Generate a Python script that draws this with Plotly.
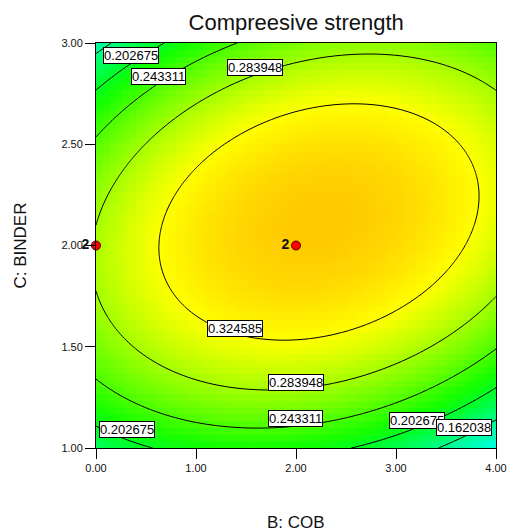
import numpy as np
import plotly.graph_objects as go

# Fitted quadratic response model for compressive strength
# z = b0 + bB*B + bC*C + bBB*B^2 + bCC*C^2 + bBC*B*C
coef_b0 = -0.1741
coef_B = 0.0313
coef_C = 0.4760
coef_BB = -0.01632
coef_CC = -0.1228
coef_BC = 0.0196

cob_range = [0.0, 4.0]
binder_range = [1.0, 3.0]

contour_levels = [0.162038, 0.202675, 0.243311, 0.283948, 0.324585]

# Design points (B: COB, C: BINDER) and their replicate counts
point_cob = [0.0, 2.0]
point_binder = [2.0, 2.0]
point_reps = ["2", "2"]

x_ticks = [0.0, 1.0, 2.0, 3.0, 4.0]
y_ticks = [1.0, 1.5, 2.0, 2.5, 3.0]

# Which contour level each boxed label shows
label_level_index = [1, 2, 3, 4, 3, 2, 1, 1, 0]


def strength(b, c):
    return (coef_b0 + coef_B * b + coef_C * c + coef_BB * b ** 2
            + coef_CC * c ** 2 + coef_BC * b * c)


# Label placement on the B-C plane
label_pos = [(0.354, 2.936), (0.623, 2.837), (1.591, 2.879), (1.387, 1.590),
             (1.995, 1.323), (1.995, 1.146), (0.314, 1.089), (3.21, 1.138),
             (3.68, 1.101)]

# Coarse grid for the shaded surface, fine grid for contour lines
n_cells = 60
xe = np.linspace(*cob_range, n_cells + 1)
ye = np.linspace(*binder_range, n_cells + 1)
xc = 0.5 * (xe[:-1] + xe[1:])
yc = 0.5 * (ye[:-1] + ye[1:])
Zc = strength(xc[None, :], yc[:, None])

xf = np.linspace(*cob_range, 201)
yf = np.linspace(*binder_range, 201)
Zf = strength(xf[None, :], yf[:, None])

zmin, zmax = 0.115, 0.365
stops = [
    (0.115, "rgb(0,255,240)"),
    (0.150, "rgb(0,255,170)"),
    (0.200, "rgb(0,255,40)"),
    (0.220, "rgb(20,255,0)"),
    (0.325, "rgb(255,255,0)"),
    (0.365, "rgb(255,200,0)"),
]
colorscale = [[(v - zmin) / (zmax - zmin), c] for v, c in stops]

fig = go.Figure()
fig.add_trace(go.Heatmap(
    x=xe, y=ye, z=Zc, zmin=zmin, zmax=zmax, colorscale=colorscale,
    showscale=False, zsmooth=False, hoverinfo="skip",
))
step = contour_levels[1] - contour_levels[0]
fig.add_trace(go.Contour(
    x=xf, y=yf, z=Zf,
    contours=dict(start=contour_levels[0], end=contour_levels[-1] + step * 0.01,
                  size=step, coloring="none"),
    line=dict(color="black", width=1), showscale=False, hoverinfo="skip",
))
fig.add_trace(go.Scatter(
    x=point_cob, y=point_binder, mode="markers+text",
    text=point_reps, textposition="middle left",
    textfont=dict(family="Liberation Sans", size=14, color="#111", weight="bold"),
    marker=dict(color="red", size=9, line=dict(color="#550000", width=1)),
    cliponaxis=False, hoverinfo="skip", showlegend=False,
))

for idx, (lx, ly) in zip(label_level_index, label_pos):
    fig.add_annotation(
        x=lx, y=ly, xref="x", yref="y", text=f"{contour_levels[idx]:.6f}",
        showarrow=False, bgcolor="white", bordercolor="black", borderwidth=1,
        borderpad=0, font=dict(family="Liberation Sans", size=13, color="black"),
    )

fig.add_annotation(
    text="B: COB", xref="paper", yref="paper", x=0.5, y=-0.185,
    showarrow=False, font=dict(family="Liberation Sans", size=17, color="#111"),
    yanchor="middle",
)
fig.add_annotation(
    text="C: BINDER", xref="paper", yref="paper", x=-0.19, y=0.5,
    showarrow=False, textangle=-90,
    font=dict(family="Liberation Sans", size=17, color="#111"), xanchor="center",
)

axis_common = dict(
    showline=True, linecolor="black", linewidth=1, mirror=True,
    ticks="outside", ticklen=10, tickcolor="black", showgrid=False,
    zeroline=False, automargin=False,
    tickfont=dict(family="Liberation Sans", size=11, color="#111"),
)
fig.update_xaxes(range=cob_range, tickvals=x_ticks,
                 ticktext=[f"{v:.2f}" for v in x_ticks], **axis_common)
fig.update_yaxes(range=binder_range, tickvals=y_ticks,
                 ticktext=[f"{v:.2f}" for v in y_ticks], **axis_common)

fig.update_layout(
    width=508, height=532,
    margin=dict(l=96, r=12, t=43, b=84, autoexpand=False),
    paper_bgcolor="white", plot_bgcolor="white",
    title=dict(text="Compreesive strength", x=0.583, xanchor="center",
               y=1 - 22 / 532, yanchor="middle", yref="container",
               font=dict(family="Liberation Sans", size=22, color="#111")),
    showlegend=False,
)

fig.write_html("out.html")
